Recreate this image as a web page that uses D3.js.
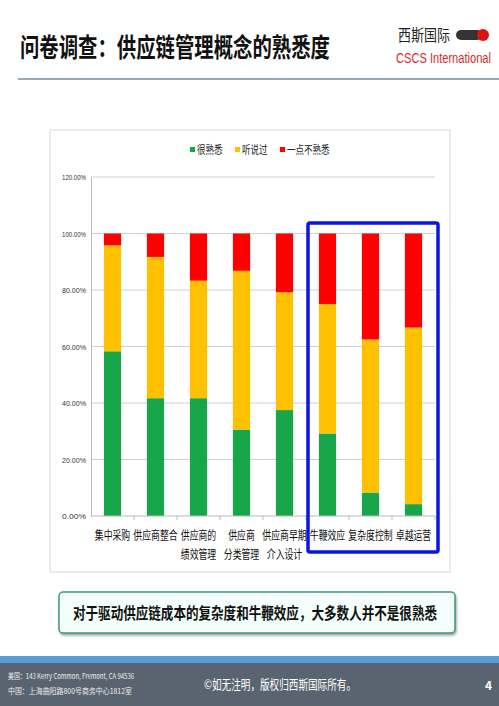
<!DOCTYPE html>
<html><head><meta charset="utf-8">
<script src="https://cdn.jsdelivr.net/npm/d3@7"></script>
<style>body{margin:0;background:#fff;font-family:"Noto Sans CJK SC",sans-serif}</style>
</head><body><div id="chart"></div>
<script>
var categories = ["集中采购", "供应商整合", "供应商的\n绩效管理", "供应商\n分类管理", "供应商早期\n介入设计", "牛鞭效应", "复杂度控制", "卓越运营"];
var seriesNames = ["很熟悉", "听说过", "一点不熟悉"];
var familiar = [58.3, 41.7, 41.7, 30.6, 37.5, 29.2, 8.3, 4.2];
var heard = [37.5, 50.0, 41.6, 56.2, 41.7, 45.8, 54.2, 62.5];
var unfamiliar = [4.2, 8.3, 16.7, 13.2, 20.8, 25.0, 37.5, 33.3];
var yTicks = [0, 20, 40, 60, 80, 100, 120];
var colors = ["#17a64a", "#ffc000", "#ff0000"];

var W = 499, H = 706;
var svg = d3.select("#chart").append("svg").attr("width", W).attr("height", H);

function fit(sel, len) { return sel.attr("textLength", len).attr("lengthAdjust", "spacingAndGlyphs"); }

// header
fit(svg.append("text").attr("x", 20).attr("y", 57).attr("font-size", 26).attr("font-weight", "bold")
  .attr("fill", "#111").text("问卷调查：供应链管理概念的熟悉度"), 310);
fit(svg.append("text").attr("x", 398).attr("y", 41).attr("font-size", 16).attr("fill", "#222").text("西斯国际"), 52);
svg.append("rect").attr("x", 456).attr("y", 30).attr("width", 26).attr("height", 10).attr("rx", 5).attr("fill", "#333");
svg.append("circle").attr("cx", 483).attr("cy", 35).attr("r", 6).attr("fill", "#d11");
fit(svg.append("text").attr("x", 396).attr("y", 63).attr("font-size", 15).attr("fill", "#e0262c")
  .attr("font-family", "Liberation Sans, sans-serif").text("CSCS International"), 95);
svg.append("line").attr("x1", 18).attr("x2", 499).attr("y1", 79).attr("y2", 79).attr("stroke", "#9aa8b4").attr("stroke-width", 2);

// chart frame
svg.append("rect").attr("x", 50).attr("y", 130).attr("width", 400).attr("height", 442).attr("fill", "none").attr("stroke", "#d9d9d9");

var margin = {left: 91, right: 435, top: 177, bottom: 516};
var x = d3.scaleBand().domain(categories).range([margin.left, margin.right]).paddingInner(0.6).paddingOuter(0.3);
var y = d3.scaleLinear().domain([0, 120]).range([margin.bottom, margin.top]);

svg.append("g").selectAll("line").data(yTicks.slice(1)).join("line")
  .attr("x1", margin.left).attr("x2", margin.right).attr("y1", d => y(d)).attr("y2", d => y(d)).attr("stroke", "#d0d0d0");

var yAxis = svg.append("g").attr("transform", `translate(${margin.left},0)`)
  .call(d3.axisLeft(y).tickValues(yTicks).tickSize(0).tickPadding(5).tickFormat(d => d.toFixed(2) + "%"));
yAxis.select(".domain").attr("stroke", "#bbb");
yAxis.selectAll("text").attr("font-size", 8).attr("fill", "#333").attr("textLength", 24).attr("lengthAdjust", "spacingAndGlyphs");

var stackData = categories.map((c, i) => ({cat: c, "很熟悉": familiar[i], "听说过": heard[i], "一点不熟悉": unfamiliar[i]}));
var stacked = d3.stack().keys(seriesNames)(stackData);
svg.append("g").selectAll("g").data(stacked).join("g").attr("fill", (d, i) => colors[i])
  .selectAll("rect").data(d => d).join("rect")
  .attr("x", d => x(d.data.cat)).attr("width", x.bandwidth())
  .attr("y", d => y(Math.min(d[1], 100))).attr("height", d => y(d[0]) - y(Math.min(d[1], 100)));

// x axis
svg.append("line").attr("x1", margin.left).attr("x2", margin.right).attr("y1", margin.bottom).attr("y2", margin.bottom).attr("stroke", "#bbb");
var step = x.step();
svg.append("g").selectAll("line").data(categories).join("line")
  .attr("x1", d => x(d) + x.bandwidth() / 2 + step / 2).attr("x2", d => x(d) + x.bandwidth() / 2 + step / 2)
  .attr("y1", margin.bottom).attr("y2", margin.bottom + 4).attr("stroke", "#bbb");
svg.append("g").selectAll("text").data(categories).join("text")
  .attr("text-anchor", "middle").attr("font-size", 12).attr("fill", "#111")
  .attr("transform", d => `translate(${x(d) + x.bandwidth() / 2},${margin.bottom + 24}) scale(0.74,1)`)
  .selectAll("tspan").data(d => d.split("\n")).join("tspan")
  .attr("x", 0).attr("dy", (d, i) => i ? 19 : 0).text(d => d);

// legend
var lg = svg.append("g").attr("transform", "translate(190,151)");
var lx = [0, 45, 90];
seriesNames.forEach((s, i) => {
  lg.append("rect").attr("x", lx[i]).attr("y", -4).attr("width", 5).attr("height", 5).attr("fill", colors[i]);
  fit(lg.append("text").attr("x", lx[i] + 7).attr("y", 3).attr("font-size", 11).attr("fill", "#222").text(s), s.length * 8.5);
});

// highlight box
svg.append("rect").attr("x", 308).attr("y", 223).attr("width", 130).attr("height", 329).attr("rx", 2)
  .attr("fill", "none").attr("stroke", "#0a14e6").attr("stroke-width", 3.5);

// callout
svg.append("rect").attr("x", 59).attr("y", 592).attr("width", 396).attr("height", 41).attr("rx", 4)
  .attr("fill", "#f4fffb").attr("stroke", "#3a9a7a").attr("stroke-width", 1.5)
  .style("filter", "drop-shadow(1px 2px 1px rgba(0,0,0,0.35))");
fit(svg.append("text").attr("x", 73).attr("y", 619).attr("font-size", 16).attr("font-weight", "bold")
  .attr("fill", "#111").text("对于驱动供应链成本的复杂度和牛鞭效应，大多数人并不是很熟悉"), 364);

// footer
svg.append("rect").attr("x", 0).attr("y", 656).attr("width", W).attr("height", 7).attr("fill", "#5b9bd5");
svg.append("rect").attr("x", 0).attr("y", 663).attr("width", W).attr("height", 43).attr("fill", "#5a6470");
fit(svg.append("text").attr("x", 8).attr("y", 679).attr("font-size", 8).attr("fill", "#eee").text("美国：143 Kerry Common, Fremont, CA 94536"), 126);
fit(svg.append("text").attr("x", 8).attr("y", 694).attr("font-size", 8).attr("fill", "#eee").text("中国：上海曲阳路800号商务中心1812室"), 124);
fit(svg.append("text").attr("x", 204).attr("y", 689).attr("font-size", 13).attr("fill", "#fff").text("©如无注明，版权归西斯国际所有。"), 152);
svg.append("text").attr("x", 492).attr("y", 690).attr("text-anchor", "end").attr("font-size", 12).attr("font-weight", "bold").attr("fill", "#fff").text("4");
</script></body></html>
